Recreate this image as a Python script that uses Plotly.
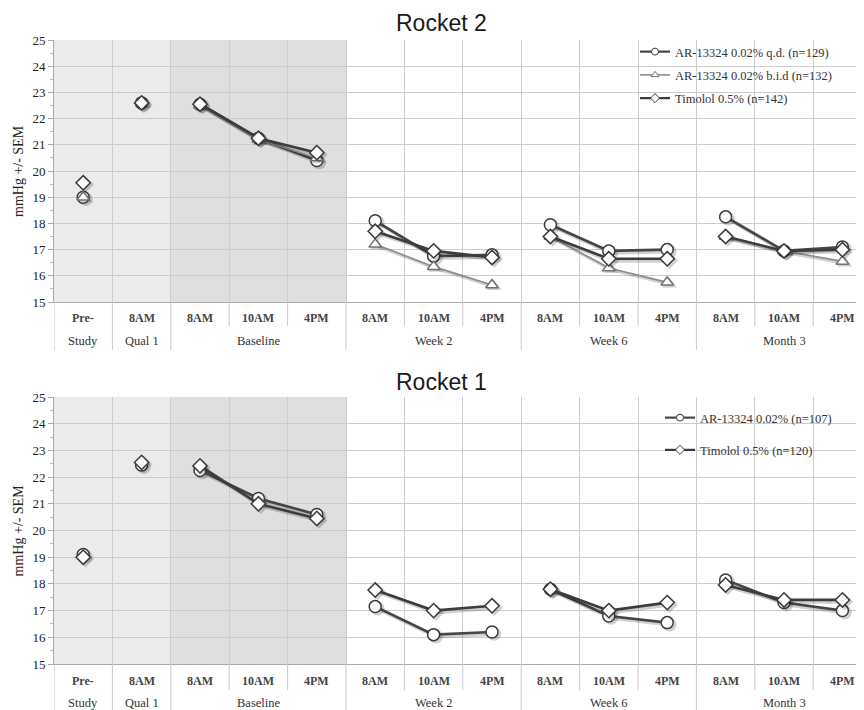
import plotly.graph_objects as go

# ---------------- data ----------------
time_labels = ["Pre-", "8AM", "8AM", "10AM", "4PM", "8AM", "10AM", "4PM",
               "8AM", "10AM", "4PM", "8AM", "10AM", "4PM"]
group_of_point = [0, 1, 2, 2, 2, 3, 3, 3, 4, 4, 4, 5, 5, 5]
group_labels = ["Study", "Qual 1", "Baseline", "Week 2", "Week 6", "Month 3"]

r2_qd = [19.0, 22.6, 22.55, 21.25, 20.4, 18.1, 16.75, 16.8, 17.95, 16.95, 17.0, 18.25, 16.95, 17.1]
r2_bid = [19.0, 22.6, 22.5, 21.2, 20.5, 17.2, 16.35, 15.65, 17.5, 16.3, 15.75, 17.5, 16.95, 16.55]
r2_tim = [19.55, 22.6, 22.55, 21.25, 20.7, 17.7, 16.95, 16.7, 17.5, 16.65, 16.65, 17.5, 16.95, 17.0]

r1_qd = [19.1, 22.45, 22.25, 21.2, 20.6, 17.15, 16.1, 16.2, 17.8, 16.8, 16.55, 18.15, 17.3, 17.0]
r1_tim = [19.0, 22.55, 22.42, 21.0, 20.45, 17.77, 17.0, 17.18, 17.8, 17.0, 17.3, 17.96, 17.4, 17.4]

r2_names = ["AR-13324 0.02% q.d. (n=129)", "AR-13324 0.02% b.i.d (n=132)", "Timolol 0.5% (n=142)"]
r1_names = ["AR-13324 0.02% (n=107)", "Timolol 0.5% (n=120)"]

# ---------------- geometry (page has an 8px body margin) ----------------
OFF = 8
W, H = 864 - OFF, 710 - OFF
COL = 58.4
LEFT = 54 - OFF
x_lo = -0.5
x_hi = -0.5 + (W - LEFT) / COL

def py(p):
    """reference-screen pixel (y) -> paper fraction"""
    return 1 - (p - OFF) / H

def px(p):
    return (p - OFF) / W

panels = [
    dict(top=40, bottom=302, lab1=318, lab2=341, lines1=326, lines2=350, title_y=23.5,
         title="Rocket 2", xa="x", ya="y"),
    dict(top=397, bottom=664, lab1=681, lab2=703, lines1=690, lines2=710, title_y=382,
         title="Rocket 1", xa="x2", ya="y2"),
]

SERIF = "Liberation Serif"

def gapped(vals):
    xs, ys = [], []
    prev = None
    for i, v in enumerate(vals):
        g = group_of_point[i]
        if prev is not None and g != prev:
            xs.append(None); ys.append(None)
        xs.append(i); ys.append(v)
        prev = g
    return xs, ys

styles = {
    "circle": dict(symbol="circle", size=12, line="#454545", lw=2.6, edge="#3a3a3a"),
    "triangle": dict(symbol="triangle-up", size=11, line="#8c8c8c", lw=1.6, edge="#707070"),
    "diamond": dict(symbol="diamond", size=11, line="#3c3c3c", lw=2.6, edge="#3a3a3a"),
}

fig = go.Figure()

def add_series(vals, name, kind, xa, ya, legend, grp):
    st = styles[kind]
    xs, ys = gapped(vals)
    # soft shadow
    fig.add_trace(go.Scatter(
        x=[None if v is None else v + 0.04 for v in xs],
        y=[None if v is None else v - 0.07 for v in ys],
        mode="lines+markers", xaxis=xa, yaxis=ya, showlegend=False, hoverinfo="skip",
        line=dict(color="rgba(0,0,0,0.18)", width=st["lw"] + 1.5),
        marker=dict(symbol=st["symbol"], size=st["size"] + 2, color="rgba(0,0,0,0.18)",
                    line=dict(width=0))))
    fig.add_trace(go.Scatter(
        x=xs, y=ys, mode="lines+markers", name=name, xaxis=xa, yaxis=ya, showlegend=False,
        line=dict(color=st["line"], width=st["lw"]),
        marker=dict(symbol=st["symbol"], size=st["size"], color="white",
                    line=dict(color=st["edge"], width=1.5))))
    # legend entry (small symbol, as in the original)
    fig.add_trace(go.Scatter(
        x=[None], y=[None], mode="lines+markers", name=name, xaxis=xa, yaxis=ya,
        legend=legend, legendgroup=grp, showlegend=True,
        line=dict(color=st["line"], width=2.2 if kind != "triangle" else 1.6),
        marker=dict(symbol=st["symbol"], size=7, color="white",
                    line=dict(color=st["edge"], width=1))))

add_series(r2_qd, r2_names[0], "circle", "x", "y", "legend", "a")
add_series(r2_bid, r2_names[1], "triangle", "x", "y", "legend", "b")
add_series(r2_tim, r2_names[2], "diamond", "x", "y", "legend", "c")
add_series(r1_qd, r1_names[0], "circle", "x2", "y2", "legend2", "d")
add_series(r1_tim, r1_names[1], "diamond", "x2", "y2", "legend2", "e")

shapes = []
annotations = []
n = len(time_labels)
bounds = [i + 0.5 for i in range(n - 1)]
group_bounds = [i + 0.5 for i in range(n - 1) if group_of_point[i] != group_of_point[i + 1]]

for p in panels:
    shapes.append(dict(type="rect", xref=p["xa"], yref=p["ya"], x0=-0.5, x1=1.5, y0=15, y1=25,
                       fillcolor="#ebebeb", line=dict(width=0), layer="below"))
    shapes.append(dict(type="rect", xref=p["xa"], yref=p["ya"], x0=1.5, x1=4.5, y0=15, y1=25,
                       fillcolor="#dfdfdf", line=dict(width=0), layer="below"))
    for b in bounds:
        end = p["lines2"] if b in group_bounds else p["lines1"]
        shapes.append(dict(type="line", xref=p["xa"], yref="paper", x0=b, x1=b,
                           y0=py(p["bottom"]), y1=max(py(end), 0), line=dict(color="#cccccc", width=1)))
    shapes.append(dict(type="line", xref=p["xa"], yref="paper", x0=-0.5, x1=-0.5,
                       y0=py(p["bottom"]), y1=max(py(p["lines2"]), 0), line=dict(color="#bbbbbb", width=1)))
    for i, lab in enumerate(time_labels):
        annotations.append(dict(x=i, y=py(p["lab1"]), xref=p["xa"], yref="paper", text="<b>" + lab + "</b>",
                                showarrow=False, font=dict(family=SERIF, size=12, color="#444444"),
                                xanchor="center", yanchor="middle"))
    for g, gl in enumerate(group_labels):
        idx = [i for i in range(n) if group_of_point[i] == g]
        cx = (idx[0] + idx[-1]) / 2
        annotations.append(dict(x=cx, y=py(p["lab2"]), xref=p["xa"], yref="paper", text=gl,
                                showarrow=False, font=dict(family=SERIF, size=12.5, color="#333333"),
                                xanchor="center", yanchor="middle"))
    annotations.append(dict(x=px(441), y=py(p["title_y"]), xref="paper", yref="paper",
                            text=p["title"], showarrow=False,
                            font=dict(family="Liberation Sans", size=23, color="#1a1a1a"),
                            xanchor="center", yanchor="middle"))
    annotations.append(dict(x=px(18), y=py((p["top"] + p["bottom"]) / 2), xref="paper", yref="paper",
                            text="mmHg +/- SEM", textangle=-90, showarrow=False,
                            font=dict(family=SERIF, size=14, color="#222222"),
                            xanchor="center", yanchor="middle"))

xcommon = dict(range=[x_lo, x_hi], showticklabels=False, ticks="", showgrid=True,
               tickvals=bounds, gridcolor="#cccccc", gridwidth=1, zeroline=False,
               showline=True, linecolor="#aaaaaa", linewidth=1, mirror=False, automargin=False)
ycommon = dict(range=[15, 25], dtick=1, tick0=15, showgrid=True, gridcolor="#cccccc",
               gridwidth=1, zeroline=False, showline=True, linecolor="#aaaaaa", linewidth=1,
               ticks="outside", ticklen=5, tickcolor="#aaaaaa", automargin=False,
               minor=dict(dtick=0.5, ticks="outside", ticklen=3, tickcolor="#bbbbbb", showgrid=False),
               tickfont=dict(family=SERIF, size=13, color="#222222"))

fig.update_layout(
    width=W, height=H, margin=dict(l=0, r=0, t=0, b=0, pad=0, autoexpand=False),
    paper_bgcolor="white", plot_bgcolor="white",
    xaxis=dict(domain=[LEFT / W, 1], anchor="y", **xcommon),
    yaxis=dict(domain=[py(panels[0]["bottom"]), py(panels[0]["top"])], anchor="x", **ycommon),
    xaxis2=dict(domain=[LEFT / W, 1], anchor="y2", **xcommon),
    yaxis2=dict(domain=[py(panels[1]["bottom"]), py(panels[1]["top"])], anchor="x2", **ycommon),
    shapes=shapes, annotations=annotations,
    legend=dict(x=px(635), y=py(37), xanchor="left", yanchor="top", bgcolor="rgba(0,0,0,0)",
                font=dict(family=SERIF, size=12.5, color="#333333"), traceorder="grouped",
                tracegroupgap=4, itemwidth=30),
    legend2=dict(x=px(660), y=py(403), xanchor="left", yanchor="top", bgcolor="rgba(0,0,0,0)",
                 font=dict(family=SERIF, size=12.5, color="#333333"), traceorder="grouped",
                 tracegroupgap=13, itemwidth=30),
    showlegend=True,
)

fig.write_html("out.html")
